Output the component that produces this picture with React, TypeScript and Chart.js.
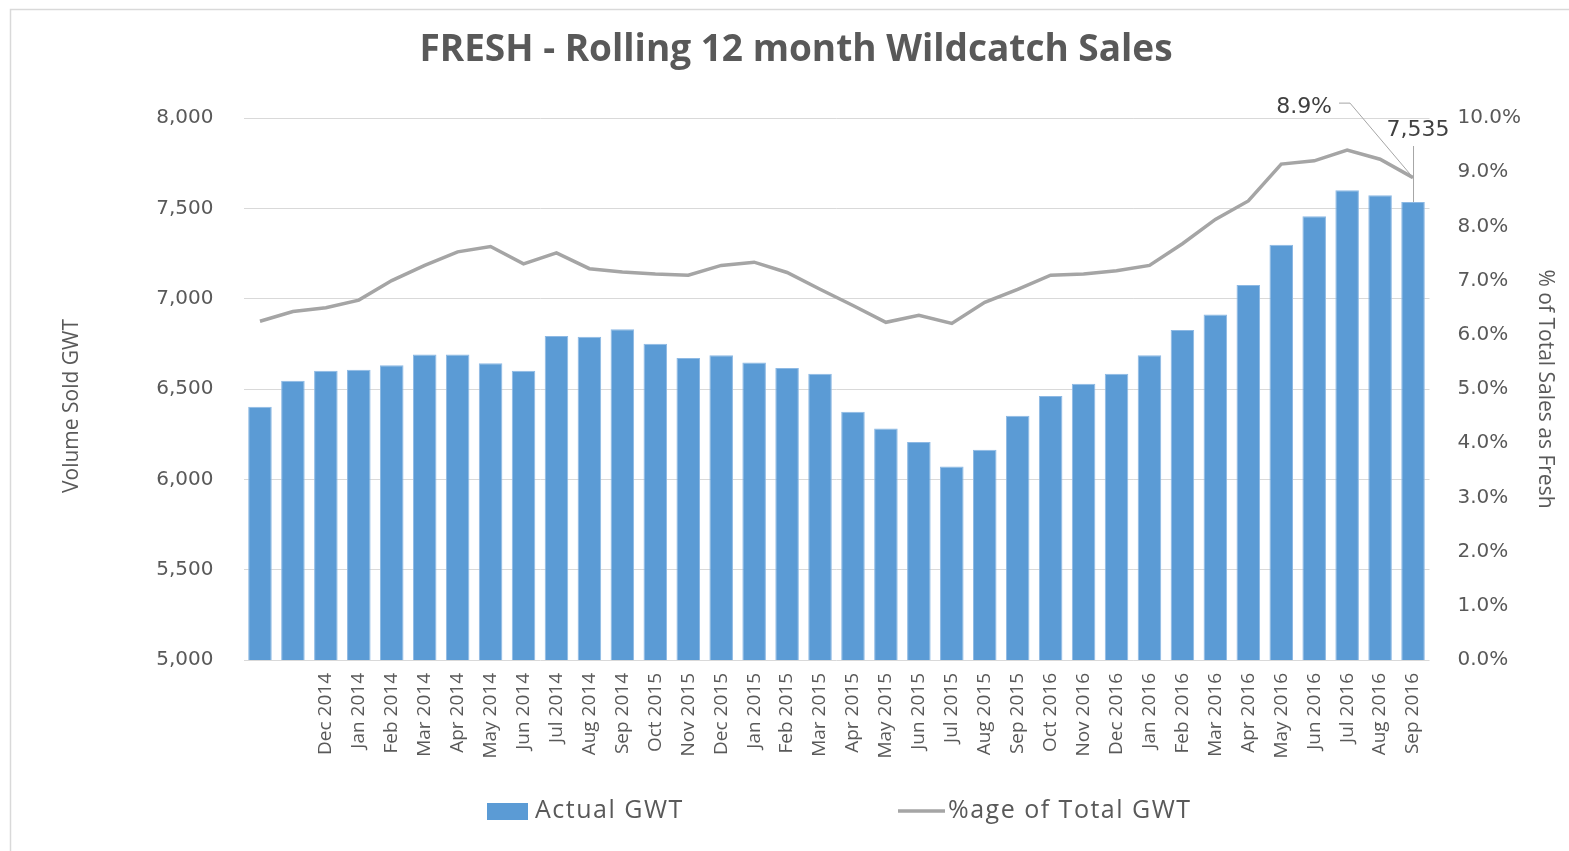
import React, { useEffect, useRef } from 'react';
import { Chart, registerables } from 'chart.js';

Chart.register(...registerables);

const categories: string[] = [
  '', '', 'Dec 2014', 'Jan 2014', 'Feb 2014', 'Mar 2014', 'Apr 2014', 'May 2014', 'Jun 2014',
  'Jul 2014', 'Aug 2014', 'Sep 2014', 'Oct 2015', 'Nov 2015', 'Dec 2015', 'Jan 2015', 'Feb 2015',
  'Mar 2015', 'Apr 2015', 'May 2015', 'Jun 2015', 'Jul 2015', 'Aug 2015', 'Sep 2015', 'Oct 2016',
  'Nov 2016', 'Dec 2016', 'Jan 2016', 'Feb 2016', 'Mar 2016', 'Apr 2016', 'May 2016', 'Jun 2016',
  'Jul 2016', 'Aug 2016', 'Sep 2016',
];

const actualGWT: number[] = [
  6402, 6545, 6601, 6606, 6632, 6691, 6691, 6643, 6601, 6794, 6789, 6831,
  6750, 6671, 6687, 6647, 6616, 6584, 6374, 6282, 6206, 6071, 6164, 6352,
  6461, 6529, 6584, 6687, 6826, 6912, 7075, 7299, 7456, 7600, 7572, 7535,
];

const pctOfTotal: number[] = [
  6.25, 6.43, 6.50, 6.64, 7.00, 7.28, 7.53, 7.63, 7.31, 7.51, 7.22, 7.16,
  7.12, 7.10, 7.28, 7.34, 7.15, 6.84, 6.54, 6.23, 6.36, 6.21, 6.60, 6.84,
  7.10, 7.12, 7.18, 7.28, 7.68, 8.13, 8.47, 9.15, 9.21, 9.41, 9.24, 8.90,
];

const leftMin = 5000;
const leftMax = 8000;
const leftStep = 500;
const rightMin = 0;
const rightMax = 10;
const rightStep = 1;

const titleText = 'FRESH - Rolling 12 month Wildcatch Sales';
const leftAxisTitle = 'Volume Sold GWT';
const rightAxisTitle = '% of Total Sales as Fresh';
const barSeriesName = 'Actual GWT';
const lineSeriesName = '%age of Total GWT';

const BAR_COLOR = '#5B9BD5';
const LINE_COLOR = '#A5A5A5';
const TEXT_COLOR = '#595959';
const LABEL_COLOR = '#404040';
const GRID_COLOR = '#D9D9D9';

const overlayPlugin = {
  id: 'overlay',
  beforeDraw(chart: any) {
    const ctx = chart.ctx;
    ctx.save();
    ctx.fillStyle = '#FFFFFF';
    ctx.fillRect(0, 0, chart.width, chart.height);
    ctx.strokeStyle = GRID_COLOR;
    ctx.lineWidth = 1.5;
    ctx.beginPath();
    ctx.moveTo(10.5, chart.height);
    ctx.lineTo(10.5, 9.5);
    ctx.lineTo(chart.width, 9.5);
    ctx.stroke();
    ctx.restore();
  },
  afterDraw(chart: any) {
    const ctx = chart.ctx;
    ctx.save();
    // title
    ctx.fillStyle = TEXT_COLOR;
    ctx.font = 'bold 37px "Open Sans"';
    ctx.textAlign = 'center';
    ctx.textBaseline = 'alphabetic';
    ctx.fillText(titleText, 796, 61);

    // left axis title
    ctx.save();
    ctx.translate(72, 406);
    ctx.rotate(-Math.PI / 2);
    ctx.font = '21px "Open Sans"';
    ctx.textAlign = 'center';
    ctx.textBaseline = 'middle';
    ctx.fillStyle = TEXT_COLOR;
    ctx.fillText(leftAxisTitle, 0, 0);
    ctx.restore();

    // legend
    ctx.fillStyle = BAR_COLOR;
    ctx.fillRect(487, 803, 41, 17);
    ctx.strokeStyle = LINE_COLOR;
    ctx.lineWidth = 3.5;
    ctx.beginPath();
    ctx.moveTo(898, 811);
    ctx.lineTo(945, 811);
    ctx.stroke();
    ctx.fillStyle = TEXT_COLOR;
    ctx.font = '25px "Open Sans"';
    try { (ctx as any).letterSpacing = '1.5px'; } catch (e) {}
    ctx.textAlign = 'left';
    ctx.textBaseline = 'middle';
    ctx.fillText(barSeriesName, 535, 811);
    ctx.fillText(lineSeriesName, 948, 811);
    try { (ctx as any).letterSpacing = '0px'; } catch (e) {}

    // data labels for last point
    const last = actualGWT.length - 1;
    const pt = chart.getDatasetMeta(0).data[last];
    const bar = chart.getDatasetMeta(1).data[last];
    ctx.strokeStyle = '#A6A6A6';
    ctx.lineWidth = 1;
    ctx.beginPath();
    ctx.moveTo(bar.x + 0.5, bar.y - 56);
    ctx.lineTo(bar.x + 0.5, bar.y);
    ctx.stroke();
    ctx.beginPath();
    ctx.moveTo(pt.x - 74, pt.y - 74.5);
    ctx.lineTo(pt.x - 63, pt.y - 74.5);
    ctx.lineTo(pt.x, pt.y);
    ctx.stroke();

    ctx.fillStyle = LABEL_COLOR;
    ctx.font = '22px "DejaVu Sans"';
    ctx.textBaseline = 'alphabetic';
    ctx.textAlign = 'center';
    ctx.fillText(actualGWT[last].toLocaleString('en-US'), bar.x + 5, bar.y - 66);
    ctx.textAlign = 'right';
    ctx.fillText(pctOfTotal[last].toFixed(1) + '%', pt.x - 81, pt.y - 65);
    ctx.restore();
  },
};

export default function App() {
  const canvasRef = useRef<HTMLCanvasElement | null>(null);

  useEffect(() => {
    if (!canvasRef.current) return;
    const chart = new Chart(canvasRef.current, {
      type: 'bar',
      data: {
        labels: categories,
        datasets: [
          {
            type: 'line',
            label: lineSeriesName,
            data: pctOfTotal,
            yAxisID: 'y1',
            borderColor: LINE_COLOR,
            backgroundColor: LINE_COLOR,
            borderWidth: 3.5,
            pointRadius: 0,
            tension: 0,
            order: 0,
          } as any,
          {
            type: 'bar',
            label: barSeriesName,
            data: actualGWT,
            yAxisID: 'y',
            backgroundColor: BAR_COLOR,
            borderColor: '#8DB9E4',
            borderWidth: 1,
            categoryPercentage: 1,
            barPercentage: 0.715,
            order: 1,
          } as any,
        ],
      },
      options: {
        responsive: false,
        animation: false,
        layout: { padding: { top: 118, left: 0, right: 0, bottom: 0 } },
        plugins: {
          legend: { display: false },
          title: { display: false },
          tooltip: { enabled: false },
        },
        scales: {
          x: {
            offset: true,
            grid: { display: false, drawTicks: false },
            border: { display: false },
            ticks: {
              autoSkip: false,
              minRotation: 90,
              maxRotation: 90,
              padding: 13,
              color: TEXT_COLOR,
              font: { family: 'Open Sans', size: 19 },
            },
            afterFit(s: any) {
              s.height = 191;
            },
          },
          y: {
            position: 'left',
            min: leftMin,
            max: leftMax,
            grid: { color: GRID_COLOR, drawTicks: false, lineWidth: 1 },
            border: { display: false },
            ticks: {
              stepSize: leftStep,
              padding: 30,
              color: TEXT_COLOR,
              font: { family: 'DejaVu Sans', size: 20 },
              callback: (v: any) => Number(v).toLocaleString('en-US'),
            },
            afterFit(s: any) {
              s.width = 243.5;
            },
          },
          y1: {
            position: 'right',
            min: rightMin,
            max: rightMax,
            grid: { display: false, drawTicks: false },
            border: { display: false },
            ticks: {
              stepSize: rightStep,
              padding: 28,
              color: TEXT_COLOR,
              font: { family: 'DejaVu Sans', size: 20 },
              callback: (v: any) => Number(v).toFixed(1) + '%',
            },
            title: {
              display: true,
              text: rightAxisTitle,
              color: TEXT_COLOR,
              font: { family: 'Open Sans', size: 21 },
              padding: { top: 11, bottom: 0 },
            },
            afterFit(s: any) {
              s.width = 139.5;
            },
          },
        },
      } as any,
      plugins: [overlayPlugin],
    });
    return () => chart.destroy();
  }, []);

  return (
    <div style={{ position: 'absolute', left: 0, top: 0, width: 1569, height: 851, overflow: 'hidden' }}>
      <canvas ref={canvasRef} width={1569} height={851} style={{ display: 'block' }} />
    </div>
  );
}
